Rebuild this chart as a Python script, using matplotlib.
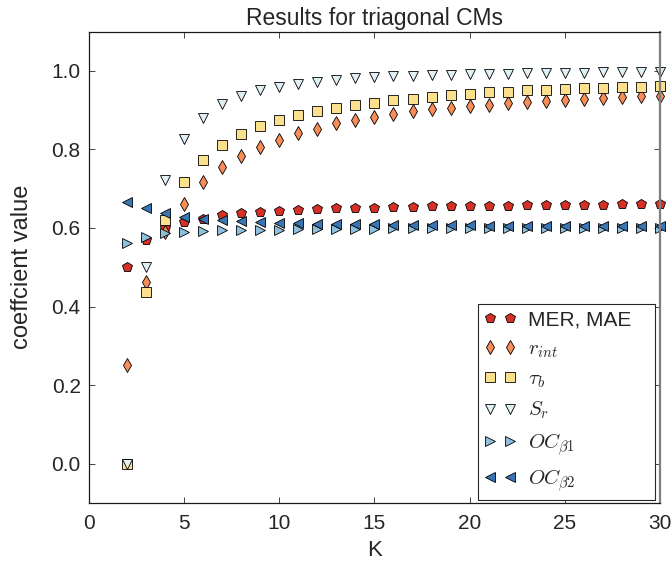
import numpy as np
import matplotlib
matplotlib.use('Agg')
import matplotlib.pyplot as plt

plt.rcParams['font.family'] = ['Liberation Sans', 'DejaVu Sans']
plt.rcParams['mathtext.fontset'] = 'cm'

# K values and coefficient values
K = list(range(2, 31))
mer = [0.50, 0.57, 0.60, 0.615, 0.624, 0.632, 0.637, 0.641, 0.644, 0.646,
       0.648, 0.650, 0.651, 0.652, 0.653, 0.654, 0.655, 0.655, 0.656, 0.657,
       0.657, 0.658, 0.658, 0.659, 0.659, 0.659, 0.660, 0.660, 0.661]
r_int = [0.25, 0.463, 0.59, 0.662, 0.716, 0.756, 0.784, 0.806, 0.825, 0.842,
         0.853, 0.866, 0.874, 0.883, 0.891, 0.897, 0.902, 0.906, 0.910, 0.914,
         0.917, 0.920, 0.923, 0.926, 0.928, 0.931, 0.933, 0.935, 0.937]
tau_b = [0.0, 0.436, 0.62, 0.717, 0.774, 0.811, 0.839, 0.859, 0.874, 0.887,
         0.897, 0.906, 0.912, 0.919, 0.925, 0.929, 0.934, 0.938, 0.942, 0.945,
         0.947, 0.950, 0.952, 0.954, 0.955, 0.957, 0.958, 0.960, 0.961]
s_r = [0.0, 0.501, 0.723, 0.827, 0.881, 0.915, 0.935, 0.950, 0.959, 0.967,
       0.972, 0.977, 0.981, 0.984, 0.986, 0.988, 0.989, 0.990, 0.991, 0.992,
       0.993, 0.994, 0.994, 0.995, 0.995, 0.996, 0.996, 0.997, 0.997]
oc_b1 = [0.562, 0.578, 0.588, 0.590, 0.593, 0.594, 0.595, 0.596, 0.596, 0.597,
         0.597, 0.598, 0.598, 0.598, 0.599, 0.599, 0.599, 0.599, 0.600, 0.600,
         0.600, 0.600, 0.600, 0.600, 0.601, 0.601, 0.601, 0.601, 0.601]
oc_b2 = [0.667, 0.652, 0.639, 0.628, 0.623, 0.620, 0.617, 0.615, 0.613, 0.612,
         0.611, 0.610, 0.609, 0.609, 0.608, 0.608, 0.607, 0.607, 0.607, 0.606,
         0.606, 0.606, 0.606, 0.605, 0.605, 0.605, 0.605, 0.604, 0.604]

series = [
    (mer, 'p', '#d73027', 'MER, MAE', 7.6),
    (r_int, 'd', '#f88d58', r'$r_{int}$', 7.1),
    (tau_b, 's', '#fbe08e', r'$\tau_b$', 7.7),
    (s_r, 'v', '#e0f0f7', r'$S_r$', 7.9),
    (oc_b1, '>', '#8ec0de', r'$OC_{\beta1}$', 7.9),
    (oc_b2, '<', '#3a75b5', r'$OC_{\beta2}$', 7.9),
]

txt = '#262626'
fig = plt.figure(figsize=(6.72, 5.66), dpi=100)
ax = fig.add_axes([0.1324, 0.1113, 0.8496, 0.833])

for vals, mk, col, lab, ms in series:
    ax.plot(K, vals, linestyle='none', marker=mk, markersize=ms,
            markerfacecolor=col, markeredgecolor='black', markeredgewidth=0.6,
            label=lab, clip_on=False)

ax.set_xlim(0, 30)
ax.set_ylim(-0.1, 1.1)
ax.set_xticks([0, 5, 10, 15, 20, 25, 30])
ax.set_yticks([0.0, 0.2, 0.4, 0.6, 0.8, 1.0])
ax.set_yticklabels(['0.0', '0.2', '0.4', '0.6', '0.8', '1.0'])
ax.tick_params(direction='in', top=True, right=True, labelsize=15,
               length=4, width=0.6, colors=txt)
ax.tick_params(axis='x', pad=8)
ax.tick_params(axis='y', pad=6)
for s in ax.spines.values():
    s.set_linewidth(0.9)
    s.set_color('#1a1a1a')
ax.spines['right'].set_color('#7f7f7f')
ax.spines['right'].set_linewidth(1.6)

ax.set_xlabel('K', fontsize=16, labelpad=5, color=txt)
ax.set_ylabel('coeffcient value', fontsize=17, labelpad=13, color=txt)
ax.set_title('Results for triagonal CMs', fontsize=16.5, pad=5, color=txt)

leg = ax.legend(loc='lower right', bbox_to_anchor=(0.991, 0.006),
                borderaxespad=0, numpoints=2, fontsize=15, handlelength=1.56,
                handletextpad=0.55, labelspacing=0.47, borderpad=0.3,
                fancybox=False, framealpha=1, edgecolor='#262626')
leg.get_frame().set_linewidth(0.8)
for t in leg.get_texts():
    t.set_color(txt)
# MATLAB leaves extra room to the right of the longest entry
leg.get_texts()[0].set_text('MER, MAE\u00a0\u00a0\u00a0')

fig.savefig('out.png', dpi=100)
